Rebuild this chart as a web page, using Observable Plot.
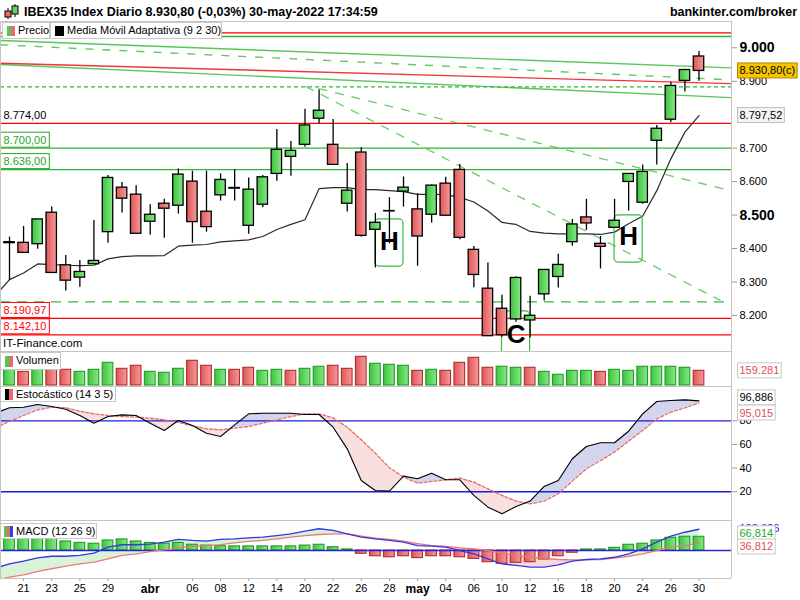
<!DOCTYPE html>
<html><head><meta charset="utf-8">
<script src="https://cdn.jsdelivr.net/npm/d3@7"></script>
<script src="https://cdn.jsdelivr.net/npm/@observablehq/plot@0.6"></script>
<style>
body{margin:0;background:#fff;}
#c{position:relative;width:800px;height:600px;overflow:hidden;background:#fff;font-family:'Liberation Sans',Arial,sans-serif;color:#000;}
#c svg{position:absolute;left:0;overflow:visible;}
.box{position:absolute;background:#fff;border:1px solid #c8c8c8;font-size:11px;line-height:15px;white-space:nowrap;box-sizing:border-box;}
.ln{position:absolute;background:#c4c4c4;}
</style></head><body><div id="c"></div>
<script>
// ---------- DATA ----------
const dates = ["2022-03-18","2022-03-21","2022-03-22","2022-03-23","2022-03-24","2022-03-25","2022-03-28","2022-03-29","2022-03-30","2022-03-31",
"2022-04-01","2022-04-04","2022-04-05","2022-04-06","2022-04-07","2022-04-08","2022-04-11","2022-04-12","2022-04-13","2022-04-14",
"2022-04-19","2022-04-20","2022-04-21","2022-04-22","2022-04-25","2022-04-26","2022-04-27","2022-04-28","2022-04-29","2022-05-02",
"2022-05-03","2022-05-04","2022-05-05","2022-05-06","2022-05-09","2022-05-10","2022-05-11","2022-05-12","2022-05-13","2022-05-16",
"2022-05-17","2022-05-18","2022-05-19","2022-05-20","2022-05-23","2022-05-24","2022-05-25","2022-05-26","2022-05-27","2022-05-30"];
const open  = [8416,8417,8413,8507,8350,8313,8353,8449,8582,8561, 8480,8534,8528,8600,8510,8559,8581,8468,8531,8623, 8674,8710,8788,8710,8534,8687,8456,8511,8570,8517, 8501,8594,8635,8396,8280,8220,8188,8185,8263,8315, 8419,8493,8414,8462,8599,8537,8722,8785,8901,8974];
const high  = [8434,8466,8487,8524,8379,8364,8484,8618,8597,8588, 8531,8547,8638,8631,8631,8623,8636,8611,8618,8756, 8720,8816,8874,8786,8654,8701,8505,8552,8614,8564, 8590,8613,8651,8406,8357,8260,8316,8257,8336,8383, 8487,8547,8436,8547,8623,8650,8768,8897,8936,8989];
const low   = [8304,8387,8398,8327,8273,8284,8353,8416,8506,8444, 8440,8431,8503,8416,8449,8542,8542,8443,8522,8601, 8616,8703,8773,8650,8509,8434,8342,8414,8524,8347, 8476,8498,8426,8283,8138,8135,8180,8133,8243,8282, 8407,8454,8339,8462,8512,8532,8650,8776,8868,8900];
const close = [8419,8387,8487,8327,8304,8330,8363,8611,8549,8444, 8501,8519,8621,8479,8464,8605,8579,8576,8613,8695, 8692,8768,8812,8650,8573,8438,8477,8512,8582,8436, 8588,8498,8432,8321,8138,8141,8312,8199,8336,8351, 8472,8475,8405,8483,8623,8629,8758,8886,8933.5,8930.8];
// volume, thousands
const volume = [184,148,170,177,170,148,170,246,181,214, 148,138,181,268,214,170,170,192,159,170, 159,181,203,214,181,311,235,224,214,159, 170,159,246,300,192,203,192,192,148,116, 159,159,148,170,159,203,203,203,192,159.281];

// indicators start one session earlier (2022-03-17)
const indDates = ["2022-03-17", ...dates];
const adaptiveMA = [8260,8307,8327,8354,8352,8350,8349,8350,8369,8376,8378,8378,8379,8407,8410,8412,8420,8423,8426,8436,8457,8472,8486,8579,8582,8582,8576,8576,8573,8570,8562,8562,8561,8553,8539,8512,8478,8472,8451,8446,8444,8444,8444,8442,8449,8474,8497,8573,8668,8748,8797.52];
const stochK = [86.5,91.0,91.5,93.8,92.1,89.8,84.5,78.0,83.6,85.0,84.5,78.0,71.8,80.3,76.0,69.5,66.7,76.6,85.9,86.4,86.4,86.4,85.3,85.3,74.6,56.3,29.5,21.1,20.5,33.2,31.0,35.7,30.1,30.1,16.9,7.0,1.4,7.6,12.1,24.5,29.5,47.9,58.3,61.4,61.4,71.2,85.9,96.3,97.2,97.7,96.886];
const stochD = [74.0,79.4,84.5,89.3,91.5,91.0,88.1,85.9,84.5,83.6,83.1,82.2,80.8,78.6,75.7,73.2,72.4,73.8,75.2,78.0,80.8,83.6,85.9,85.9,82.5,74.6,63.9,52.6,40.3,32.4,27.3,28.7,30.1,31.5,28.1,22.5,16.9,12.1,9.8,12.1,18.3,29.0,39.4,46.4,53.5,62.8,71.8,81.7,87.3,91.0,95.015];
const macdLine = [-86,-65,-52,-36,-28,-28,-24,-13,16,28,28,31,41,54,49,46,54,57,62,65,73,81,94,106,98,81,65,57,49,41,24,21,16,0,-16,-41,-65,-73,-81,-81,-70,-52,-44,-41,-33,-16,8,41,70,89,103.626];
const macdSignal = [-145,-130,-119,-102,-89,-76,-65,-57,-41,-24,-16,-5,3,13,20,24,29,37,44,49,57,65,73,78,81,81,70,60,54,46,33,24,20,13,8,0,-13,-24,-33,-37,-44,-46,-46,-44,-37,-28,-16,0,16,24,36.812];
const macdHist = [57,57,57,57,44,37,33,49,54,44, 37,33,37,28,24,21,20,20,20,20, 20,24,28,16,5,-16,-28,-33,-28,-37, -28,-28,-33,-41,-57,-65,-60,-57,-44,-28, -11,5,5,13,28,33,49,62,67,66.814];

// horizontal levels
const levelValues = [9044.8, 9033.8, 8883.4, 8774.00, 8700.00, 8636.00, 8240.8, 8190.97, 8142.10];
const levelKinds  = ["red","green","greenDash","red","green","green","greenLongDash","red","red"];
const levelLabeled = [false,false,false,true,true,true,false,true,true];
// trend lines: [date-index start, price start, date-index end, price end]
const trendStartIdx = [-0.64, -0.64, -0.64, -0.64, 21.96, 21.04];
const trendStartVal = [9021.8, 9009.0, 8954.0, 8950.0, 8878.3, 8884.3];
const trendEndIdx   = [51.31, 51.31, 51.31, 51.31, 51.31, 50.53];
const trendEndVal   = [8940.0, 8904.0, 8893.0, 8851.0, 8572.3, 8244.8];
const trendKinds    = ["green","greenDash","red","green","greenDiag","greenDiag"];
// chart patterns
const patternDates = ["2022-04-28","2022-05-23","2022-05-11"];
const patternLabels = ["H","H","C"];
const patternTop = [8487, 8499, 8212];
const patternBottom = [8346, 8358, 8040];
const patternTextY = [8420, 8434, 8143];
// axis ticks
const tickDates = ["2022-03-21","2022-03-23","2022-03-25","2022-03-29","2022-04-01","2022-04-06","2022-04-08","2022-04-12","2022-04-14","2022-04-20","2022-04-22","2022-04-26","2022-04-28","2022-05-02","2022-05-04","2022-05-06","2022-05-10","2022-05-12","2022-05-16","2022-05-18","2022-05-20","2022-05-24","2022-05-26","2022-05-30"];
const tickLabels = ["21","23","25","29","abr","06","08","12","14","20","22","26","28","may","04","06","10","12","16","18","20","24","26","30"];
const priceTicks = [8200,8300,8400,8600,8700,8900];
const priceTicksBold = [8500,9000];
const stochTicks = [20,40,60,80];
const stochLevels = [20,80];

// ---------- HELPERS ----------
const FONT = "'Liberation Sans', Arial, sans-serif";
const W = 800, RIGHT = 69;
const xDomain = [-0.64, 51.31];
const idxOf = new Map(dates.map((d,i)=>[d,i]));
const es = d3.formatLocale({decimal:",", thousands:".", grouping:[3], currency:["",""]});
const f2 = es.format(",.2f"), f3 = es.format(".3f"), f0 = es.format(",d");
const GREEN="#2fb52f", RED="#ff0000";

const rows = dates.map((d,i)=>({i, open:open[i], high:high[i], low:low[i], close:close[i], vol:volume[i],
  up: close[i]>=open[i], volUp: i===0 ? close[i]>=open[i] : close[i]>=close[i-1]}));
const ind = indDates.map((d,k)=>({i:k-1, ma:adaptiveMA[k], k:stochK[k], d:stochD[k], macd:macdLine[k], sig:macdSignal[k]}));
const hist = macdHist.map((v,i)=>({i, v}));
const levels = levelValues.map((v,j)=>({v, kind:levelKinds[j], lab:levelLabeled[j]}));
const trends = trendStartIdx.map((x,j)=>({x1:x, y1:trendStartVal[j], x2:trendEndIdx[j], y2:trendEndVal[j], kind:trendKinds[j]}));
const patterns = patternDates.map((d,j)=>({i:idxOf.get(d), label:patternLabels[j], top:patternTop[j], bottom:patternBottom[j], ty:patternTextY[j]}));

function crossSegs(xs, a, b){
  const out=[];
  for(let j=0;j<xs.length;j++){
    if(j>0){
      const da=a[j-1]-b[j-1], db=a[j]-b[j];
      if(da*db<0){const t=da/(da-db);const xc=xs[j-1]+t*(xs[j]-xs[j-1]);const yc=a[j-1]+t*(a[j]-a[j-1]);out.push({x:xc,a:yc,b:yc});}
    }
    out.push({x:xs[j],a:a[j],b:b[j]});
  }
  return out;
}
function boxify(svg, cls, fill, stroke, px=3, py=1){
  svg.querySelectorAll(`.${cls} text`).forEach(t=>{
    const bb=t.getBBox();
    const r=document.createElementNS("http://www.w3.org/2000/svg","rect");
    r.setAttribute("x",bb.x-px); r.setAttribute("y",bb.y-py);
    r.setAttribute("width",bb.width+2*px); r.setAttribute("height",bb.height+2*py);
    r.setAttribute("fill",fill); r.setAttribute("stroke",stroke); r.setAttribute("stroke-width",1);
    if(t.getAttribute("transform")) r.setAttribute("transform",t.getAttribute("transform"));
    t.parentNode.insertBefore(r,t);
  });
}
const defs = () => {
  const s = d3.create("svg:defs");
  const g1 = s.append("linearGradient").attr("id","gUp");
  g1.append("stop").attr("offset","0%").attr("stop-color","#3fc43f");
  g1.append("stop").attr("offset","100%").attr("stop-color","#86e886");
  const g2 = s.append("linearGradient").attr("id","gDn");
  g2.append("stop").attr("offset","0%").attr("stop-color","#e05656");
  g2.append("stop").attr("offset","100%").attr("stop-color","#f49a9a");
  return s.node();
};
const base = (h, mb=0) => ({width:W, height:h, marginLeft:0, marginRight:RIGHT, marginTop:0, marginBottom:mb,
  style:{fontFamily:FONT, fontSize:"11px", background:"transparent", overflow:"visible"},
  x:{domain:xDomain, axis:null}, color:{type:"identity"}});
const container = document.getElementById("c");
function place(svg, top){ svg.style.top = top+"px"; container.appendChild(svg); return svg; }

// ---------- PRICE ----------
const lastRow = rows[rows.length-1], lastInd = ind[ind.length-1];
const priceSvg = Plot.plot({...base(330),
  y:{domain:[8092.2, 9078.6]},
  marks:[
    defs,
    Plot.ruleY(levels.filter(d=>d.kind==="red"), {y:"v", stroke:RED, strokeWidth:1.3}),
    Plot.ruleY(levels.filter(d=>d.kind==="green"), {y:"v", stroke:GREEN, strokeWidth:1.3}),
    Plot.ruleY(levels.filter(d=>d.kind==="greenDash"), {y:"v", stroke:GREEN, strokeWidth:1.2, strokeDasharray:"4,3"}),
    Plot.ruleY(levels.filter(d=>d.kind==="greenLongDash"), {y:"v", stroke:"#3cb83c", strokeWidth:1.2, strokeDasharray:"10,7"}),
    Plot.link(trends.filter(d=>d.kind==="green"), {x1:"x1",y1:"y1",x2:"x2",y2:"y2", stroke:"#3cbc3c", strokeWidth:1.4, strokeOpacity:0.85, clip:true}),
    Plot.link(trends.filter(d=>d.kind==="red"), {x1:"x1",y1:"y1",x2:"x2",y2:"y2", stroke:"#ee2020", strokeWidth:1.4, strokeOpacity:0.9, clip:true}),
    Plot.link(trends.filter(d=>d.kind==="greenDash"), {x1:"x1",y1:"y1",x2:"x2",y2:"y2", stroke:"#45c045", strokeWidth:1.4, strokeOpacity:0.85, strokeDasharray:"8,9", clip:true}),
    Plot.link(trends.filter(d=>d.kind==="greenDiag"), {x1:"x1",y1:"y1",x2:"x2",y2:"y2", stroke:"#45c045", strokeWidth:1.3, strokeOpacity:0.8, strokeDasharray:"9,8", clip:true}),
    Plot.line(ind, {x:"i", y:"ma", stroke:"#2a2a2a", strokeWidth:1.2, clip:true}),
    Plot.rect(patterns, {x1:d=>d.i-1, x2:d=>d.i+1, y1:"bottom", y2:"top", fill:"none", stroke:"#3cb83c", strokeWidth:1.2, rx:4, clip:true}),
    Plot.ruleX(rows, {x:"i", y1:"low", y2:"high", stroke:"#000", strokeWidth:1.3}),
    Plot.rect(rows, {x1:d=>d.i-0.37, x2:d=>d.i+0.37, y1:"open", y2:"close", fill:d=>d.up?"url(#gUp)":"url(#gDn)", stroke:"#000", strokeWidth:1.3}),
    Plot.text(patterns, {x:"i", y:"ty", text:"label", fontSize:26, fontWeight:"bold", fill:"#000", fontFamily:FONT}),
    Plot.axisY(priceTicks, {anchor:"right", tickSize:5, tickPadding:3, tickFormat:f0, fontSize:11, stroke:"#999"}),
    Plot.axisY(priceTicksBold, {anchor:"right", tickSize:5, tickPadding:3, tickFormat:f0, fontSize:14, fontWeight:"bold", stroke:"#999"}),
    Plot.text(levels.filter(d=>d.lab && d.kind==="red" && d.v>8500), {y:"v", text:d=>f2(d.v), frameAnchor:"left", textAnchor:"start", dx:3, dy:-8, fontSize:11, fill:"#000"}),
    Plot.text(levels.filter(d=>d.lab && d.kind==="green"), {y:"v", text:d=>f2(d.v), frameAnchor:"left", textAnchor:"start", dx:3, dy:-8, fontSize:11, fill:"#2aa52a", className:"lblG"}),
    Plot.text(levels.filter(d=>d.lab && d.kind==="red" && d.v<8500), {y:"v", text:d=>f2(d.v), frameAnchor:"left", textAnchor:"start", dx:3, dy:-8, fontSize:11, fill:"#ff0000", className:"lblR"}),
    Plot.text([lastInd], {y:"ma", text:d=>f2(d.ma), frameAnchor:"right", textAnchor:"start", dx:8, fontSize:11, fill:"#000", className:"lblMA"}),
    Plot.text([lastRow], {y:"close", text:d=>f2(d.close)+"(c)", frameAnchor:"right", textAnchor:"start", dx:8, fontSize:11, fill:"#000", className:"lblC"})
  ]});
place(priceSvg, 21);
boxify(priceSvg, "lblG", "#fff", "#2aa52a", 3, 1.5);
boxify(priceSvg, "lblR", "#fff", "#ff0000", 3, 1.5);
boxify(priceSvg, "lblMA", "#f4f4f4", "#bdbdbd", 2, 1.5);
boxify(priceSvg, "lblC", "#f8c400", "#b08a00", 2, 1.5);

// ---------- VOLUME ----------
const volSvg = Plot.plot({...base(35),
  y:{domain:[-10.84, 368.6]},
  marks:[
    Plot.rect(rows, {x1:d=>d.i-0.38, x2:d=>d.i+0.38, y1:0, y2:"vol", fill:d=>d.volUp?"url(#gUp)":"url(#gDn)", stroke:d=>d.volUp?"#229a22":"#b02c2c", strokeWidth:1.1, clip:true}),
    Plot.text([lastRow], {y:"vol", text:d=>f0(Math.round(d.vol*1000)), frameAnchor:"right", textAnchor:"start", dx:8, fontSize:11, fill:"#e05050", className:"lblV"})
  ]});
place(volSvg, 351);
boxify(volSvg, "lblV", "#fff", "#c8c8c8", 2, 1.5);

// ---------- STOCHASTIC ----------
const stSeg = crossSegs(ind.map(d=>d.i), ind.map(d=>d.k), ind.map(d=>d.d));
const stochSvg = Plot.plot({...base(134),
  y:{domain:[-4.3, 109]},
  marks:[
    Plot.areaY(stSeg, {x:"x", y1:"b", y2:d=>Math.max(d.a,d.b), fill:"#d3d5ef", clip:true}),
    Plot.areaY(stSeg, {x:"x", y1:"a", y2:d=>Math.max(d.a,d.b), fill:"#f9e0e0", clip:true}),
    Plot.ruleY(stochLevels, {stroke:"#1c1cd8", strokeWidth:1.3}),
    Plot.line(ind, {x:"i", y:"d", stroke:"#e46a6a", strokeWidth:1.3, strokeDasharray:"3,2", clip:true}),
    Plot.line(ind, {x:"i", y:"k", stroke:"#000", strokeWidth:1.1, clip:true}),
    Plot.axisY(stochTicks, {anchor:"right", tickSize:5, tickPadding:3, fontSize:11, stroke:"#999"}),
    Plot.text([lastInd], {y:"k", text:d=>f3(d.k), frameAnchor:"right", textAnchor:"start", dx:8, dy:-3, fontSize:11, fill:"#000", className:"lblK"}),
    Plot.text([lastInd], {y:"d", text:d=>f3(d.d), frameAnchor:"right", textAnchor:"start", dx:8, dy:10, fontSize:11, fill:"#e05050", className:"lblD"})
  ]});
place(stochSvg, 386);
boxify(stochSvg, "lblK", "#fff", "#c8c8c8", 2, 1.5);
boxify(stochSvg, "lblD", "#fff", "#c8c8c8", 2, 1.5);

// ---------- MACD ----------
const mSeg = crossSegs(ind.map(d=>d.i), ind.map(d=>d.macd), ind.map(d=>d.sig));
const tickIdx = tickDates.map(d=>idxOf.get(d));
const tickMap = new Map(tickIdx.map((v,j)=>[v,tickLabels[j]]));
const monthIdx = tickIdx.filter((v,j)=>isNaN(+tickLabels[j]));
const dayIdx = tickIdx.filter((v,j)=>!isNaN(+tickLabels[j]));
const macdSvg = Plot.plot({...base(80, 22),
  y:{domain:[-136.6, 146.3]},
  marks:[
    Plot.areaY(mSeg, {x:"x", y1:"b", y2:d=>Math.max(d.a,d.b), fill:"#d8f4d8", clip:true}),
    Plot.areaY(mSeg, {x:"x", y1:"a", y2:d=>Math.max(d.a,d.b), fill:"#f8d8d8", clip:true}),
    Plot.rect(hist, {x1:d=>d.i-0.38, x2:d=>d.i+0.38, y1:0, y2:"v", fill:d=>d.v>=0?"url(#gUp)":"url(#gDn)", stroke:d=>d.v>=0?"#229a22":"#b02c2c", strokeWidth:1.1, clip:true}),
    Plot.ruleY([0], {stroke:"#2424dc", strokeWidth:1.4}),
    Plot.line(ind, {x:"i", y:"sig", stroke:"#ea7878", strokeWidth:1.3, clip:true}),
    Plot.line(ind, {x:"i", y:"macd", stroke:"#3636e6", strokeWidth:1.3, clip:true}),
    Plot.axisX(dayIdx, {anchor:"bottom", tickSize:3, tickPadding:3, tickFormat:d=>tickMap.get(d), fontSize:11, stroke:"#999"}),
    Plot.axisX(monthIdx, {anchor:"bottom", tickSize:3, tickPadding:3, tickFormat:d=>tickMap.get(d), fontSize:12, fontWeight:"bold", stroke:"#999"}),
    Plot.text([lastInd], {y:"macd", text:d=>f3(d.macd), frameAnchor:"right", textAnchor:"start", dx:8, dy:-1, fontSize:11, fill:"#2424dc"}),
    Plot.text(hist.slice(-1), {y:"v", text:d=>f3(d.v), frameAnchor:"right", textAnchor:"start", dx:8, dy:-3, fontSize:11, fill:"#2aa52a", className:"lblH"}),
    Plot.text([lastInd], {y:"sig", text:d=>f3(d.sig), frameAnchor:"right", textAnchor:"start", dx:8, dy:4, fontSize:11, fill:"#e05050", className:"lblS"})
  ]});
place(macdSvg, 520);
boxify(macdSvg, "lblH", "#fff", "#c8c8c8", 2, 1.5);
boxify(macdSvg, "lblS", "#fff", "#c8c8c8", 2, 1.5);

// ---------- FRAME & TEXT OVERLAYS ----------
const html = `
<div class="ln" style="left:0;top:21px;width:731px;height:1px"></div>
<div class="ln" style="left:0;top:351px;width:731px;height:1px"></div>
<div class="ln" style="left:0;top:386px;width:731px;height:1px"></div>
<div class="ln" style="left:0;top:520px;width:731px;height:1px"></div>
<div class="ln" style="left:0;top:578px;width:731px;height:1px"></div>
<div class="ln" style="left:731px;top:21px;width:1px;height:557px"></div>
<div class="ln" style="left:0;top:21px;width:1px;height:557px"></div>
<svg style="left:3px;top:3px" width="18" height="17"><line x1="5" y1="5" x2="5" y2="16" stroke="#000"/><rect x="2" y="8" width="6" height="6" fill="#e86a6a" stroke="#000"/><line x1="12" y1="1" x2="12" y2="14" stroke="#000"/><rect x="9" y="3" width="6" height="8" fill="#5cd65c" stroke="#000"/></svg>
<div style="position:absolute;left:24px;top:5px;font-weight:bold;font-size:12.5px;line-height:15px;white-space:nowrap">IBEX35 Index Diario 8.930,80 (-0,03%) 30-may-2022 17:34:59</div>
<div style="position:absolute;right:3px;top:5px;font-weight:bold;font-size:12.5px;line-height:15px;white-space:nowrap">bankinter.com/broker</div>
<div class="box" style="left:2px;top:22px;width:48px;height:17px;padding-left:15px;"><span style="position:absolute;left:4px;top:3px;width:4px;height:10px;background:#4ccc4c"></span><span style="position:absolute;left:8px;top:3px;width:4px;height:10px;background:#e86a6a"></span>Precio</div>
<div class="box" style="left:50px;top:22px;width:172px;height:17px;padding-left:16px;"><span style="position:absolute;left:4px;top:3px;width:9px;height:10px;background:#000"></span>Media Móvil Adaptativa (9 2 30)</div>
<div style="position:absolute;left:3px;top:336px;font-size:11.5px;line-height:14px;white-space:nowrap">IT-Finance.com</div>
<div class="box" style="left:0;top:352px;width:61px;height:18px;padding-left:15px;"><span style="position:absolute;left:4px;top:3px;width:4px;height:11px;background:#4ccc4c"></span><span style="position:absolute;left:8px;top:3px;width:4px;height:11px;background:#e86a6a"></span>Volumen</div>
<div class="box" style="left:0;top:386px;width:116px;height:16px;padding-left:15px;line-height:14px"><span style="position:absolute;left:4px;top:2px;width:4px;height:11px;background:#000"></span><span style="position:absolute;left:8px;top:2px;width:4px;height:11px;background:#e86a6a"></span>Estocástico (14 3 5)</div>
<div class="box" style="left:0;top:523px;width:97px;height:16px;padding-left:15px;line-height:14px"><span style="position:absolute;left:3px;top:2px;width:3px;height:11px;background:#4ccc4c"></span><span style="position:absolute;left:6px;top:2px;width:3px;height:11px;background:#e86a6a"></span><span style="position:absolute;left:9px;top:2px;width:3px;height:11px;background:#3a3ae6"></span>MACD (12 26 9)</div>
`;
container.insertAdjacentHTML("beforeend", html);
</script></body></html>
